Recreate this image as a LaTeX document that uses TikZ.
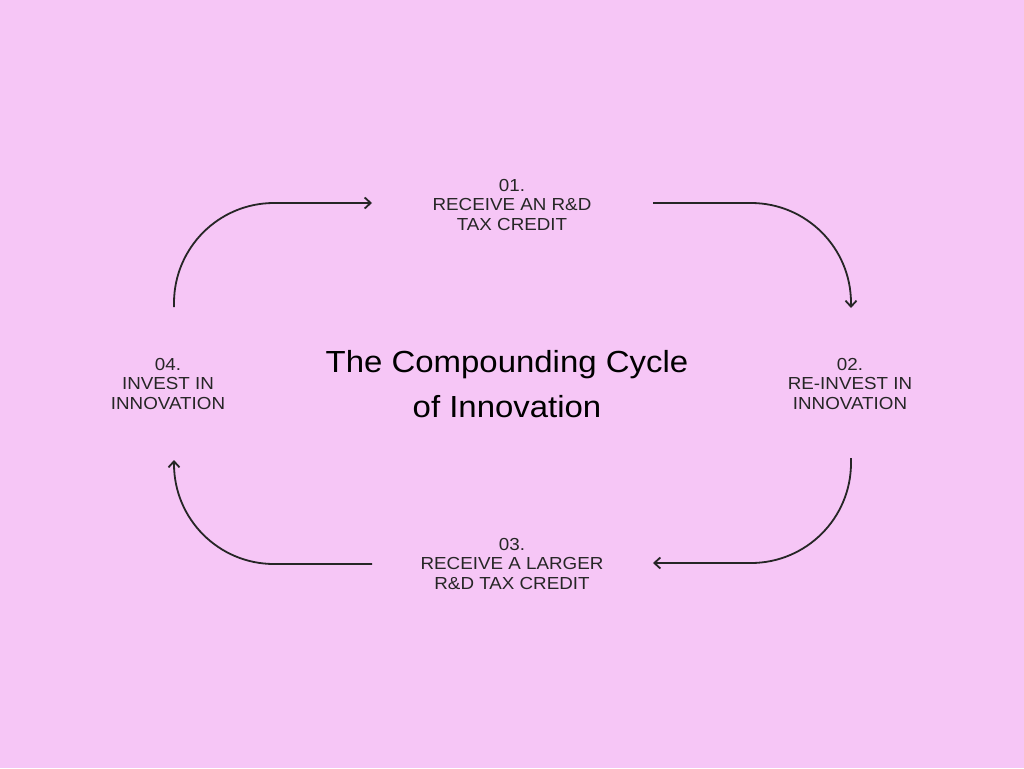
\documentclass[tikz,border=0pt]{standalone}
\usepackage{fontspec}
\usetikzlibrary{arrows.meta}
\newfontfamily\labfont[FakeStretch=1.08]{Liberation Sans}
\definecolor{bgpink}{HTML}{F6C6F6}
\definecolor{ink}{HTML}{262626}
\tikzset{
  lbl/.style={align=center, text=ink, inner sep=0pt, font=\labfont\fontsize{17.4}{19.7}\selectfont},
  ttl/.style={anchor=base, text=black, inner sep=0pt, font=\labfont\fontsize{30.5}{44}\selectfont},
  flow/.style={draw=ink, line width=1.8pt, -{Straight Barb[length=6pt,width=11pt]}}
}
\begin{document}
\begin{tikzpicture}[x=1pt,y=-1pt]
\fill[bgpink] (0,0) rectangle (1024,768);
\useasboundingbox (0,0) rectangle (1024,768);

\node[lbl] (s1) at (512,205) {01.\\RECEIVE AN R\&D\\TAX CREDIT};
\node[lbl] (s2) at (850,384) {02.\\RE-INVEST IN\\INNOVATION};
\node[lbl] (s3) at (512,564) {03.\\RECEIVE A LARGER\\R\&D TAX CREDIT};
\node[lbl] (s4) at (168,384) {04.\\INVEST IN\\INNOVATION};

\node[ttl] (t1) at (507,372) {The Compounding Cycle};
\node[ttl] (t2) at (507,417) {of Innovation};

% arrow 4 -> 1
\coordinate (a1s) at (174,307);
\coordinate (a1e) at (372,203);
\draw[flow] (a1s) -- (174,303) .. controls (174,247.8) and (218.8,203) .. (274,203) -- (a1e);
% arrow 1 -> 2
\coordinate (a2s) at (653,203);
\coordinate (a2e) at (851,308);
\draw[flow] (a2s) -- (751,203) .. controls (806.2,203) and (851,247.8) .. (851,303) -- (a2e);
% arrow 2 -> 3
\coordinate (a3s) at (851,458);
\coordinate (a3e) at (653,563);
\draw[flow] (a3s) -- (851,463) .. controls (851,518.2) and (806.2,563) .. (751,563) -- (a3e);
% arrow 3 -> 4
\coordinate (a4s) at (372,564);
\coordinate (a4e) at (174,460);
\draw[flow] (a4s) -- (274,564) .. controls (218.8,564) and (174,519.2) .. (174,464) -- (a4e);
\end{tikzpicture}
\end{document}
